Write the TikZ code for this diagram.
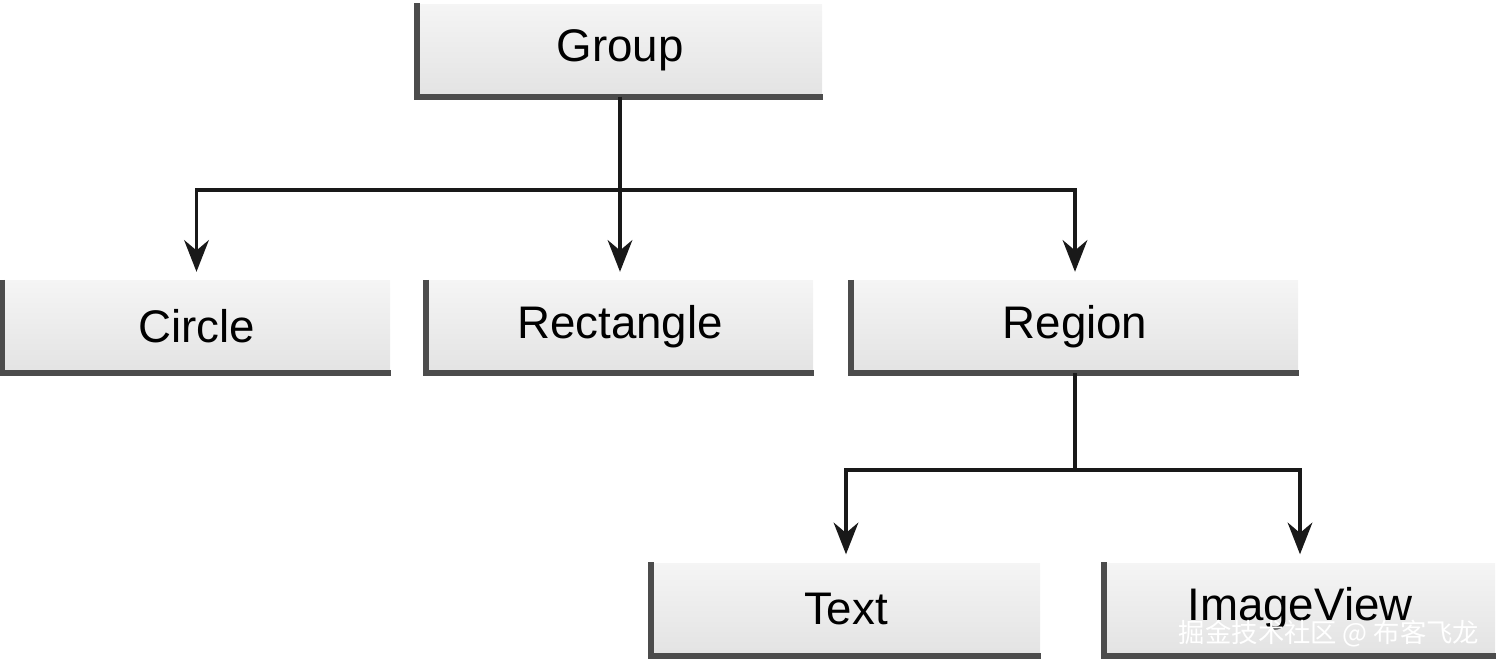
\documentclass[tikz,border=0pt]{standalone}
\usepackage{fontspec}
\setmainfont{Liberation Sans}
\newfontfamily\cjk{Noto Sans CJK SC}
\usetikzlibrary{arrows.meta}
\tikzset{
  cls/.style={minimum height=0.92cm, inner sep=0pt, font=\fontsize{13}{15}\selectfont,
    top color=gray!8, bottom color=gray!22, draw=none},
  edge/.style={line width=1.1pt, gray!20!black},
  link/.style={edge, -{Stealth[length=9pt,width=7pt]}}
}
\begin{document}
\begin{tikzpicture}
  \useasboundingbox (0,0) rectangle (15,6.6);
% classes
  \node[cls, minimum width=4.04cm] (group) at (6.20,6.10) {Group};
  \node[cls, minimum width=3.87cm] (circle) at (1.965,3.335) {Circle};
  \node[cls, minimum width=3.86cm] (rect) at (6.20,3.335) {Rectangle};
  \node[cls, minimum width=4.46cm] (region) at (10.75,3.335) {Region};
  \node[cls, minimum width=3.88cm] (text) at (8.46,0.51) {Text};
  \node[cls, minimum width=3.90cm] (image) at (13.00,0.51) {ImageView};
% shadow edges
  \foreach \n in {group,circle,rect,region,text,image}
    \draw[line width=1.8pt, gray!60!black] (\n.north west) -- (\n.south west) -- (\n.south east);
% links
  \coordinate (bus) at (6.20,4.70);
  \coordinate (sub) at (10.75,1.90);
  \draw[edge] (group.south) -- (bus);
  \foreach \n in {circle,rect,region}
    \draw[link] (bus) -| ([yshift=0.08cm]\n.north);
  \draw[edge] (region.south) -- (sub);
  \foreach \n in {text,image}
    \draw[link] (sub) -| ([yshift=0.08cm]\n.north);
% watermark
  \node[font=\cjk\fontsize{7.5}{9}\selectfont, text=white, inner sep=0pt, anchor=south east] (mark) at (14.80,0.12) {掘金技术社区 @ 布客飞龙};
\end{tikzpicture}
\end{document}
